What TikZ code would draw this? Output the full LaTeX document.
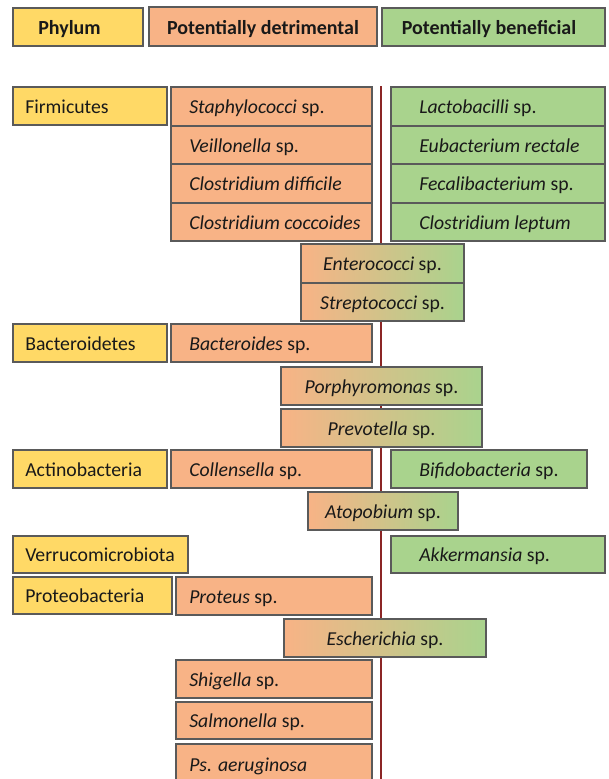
\documentclass[tikz,border=0pt]{standalone}
\usepackage{fontspec}
\setmainfont{Carlito}
\definecolor{yel}{HTML}{FFD966}
\definecolor{ora}{HTML}{F8B386}
\definecolor{grn}{HTML}{A9D38D}
\definecolor{bord}{HTML}{5A5A5A}
\definecolor{vline}{HTML}{8B2525}
\tikzset{
  boxs/.style={draw=bord, line width=0.8pt},
  txt/.style={inner sep=0pt, text height=9.5pt, text depth=3.5pt, yshift=-2.3pt, font=\fontsize{14.8}{16}\selectfont, text=black!90, anchor=west},
  ctxt/.style={inner sep=0pt, text height=9.5pt, text depth=3.5pt, yshift=-2.3pt, font=\fontsize{14.8}{16}\selectfont, text=black!90},
  hdr/.style={inner sep=0pt, text height=9.5pt, text depth=3.5pt, yshift=-2.3pt, font=\bfseries\fontsize{15}{17}\selectfont, text=black!90},
}
% name x1 y1 x2 y2 text
\newcommand{\phybox}[6]{%
  \path[boxs, fill=yel] (#2,#3) rectangle (#4,#5);
  \node[txt] (#1) at ({#2+12},{(#3+#5)/2}) {#6};}
\newcommand{\detbox}[6]{%
  \path[boxs, fill=ora] (#2,#3) rectangle (#4,#5);
  \node[txt] (#1) at (189,{(#3+#5)/2}) {#6};}
\newcommand{\benbox}[6]{%
  \path[boxs, fill=grn] (#2,#3) rectangle (#4,#5);
  \node[txt] (#1) at ({#2+28},{(#3+#5)/2}) {#6};}
\newcommand{\mixbox}[6]{%
  \path[boxs, left color=ora, right color=grn] (#2,#3) rectangle (#4,#5);
  \node[ctxt] (#1) at ({(#2+#4)/2},{(#3+#5)/2}) {#6};}
\begin{document}
\begin{tikzpicture}[x=0.75pt,y=-0.75pt]
\useasboundingbox (0,0) rectangle (608,779);
\begin{scope}
\clip (0,0) rectangle (608,779);
% headers
\path[boxs, fill=yel] (13,8) rectangle (143,46);
\node[hdr, anchor=west] (h1) at (38,27) {Phylum};
\path[boxs, fill=ora] (149,7) rectangle (377,46);
\node[hdr] (h2) at (263,27) {Potentially detrimental};
\path[boxs, fill=grn] (382,8) rectangle (605,46);
\node[hdr] (h3) at (489,27) {Potentially beneficial};
% vertical line
\coordinate (lt) at (381,86);
\coordinate (lb) at (381,781);
\draw[vline, line width=0.9pt] (lt) -- (lb);
% Firmicutes
\phybox{firm}{13}{87}{167}{125}{Firmicutes}
\detbox{staph}{171}{87}{372}{126}{\textit{Staphylococci} sp.}
\detbox{veil}{171}{126}{372}{164}{\textit{Veillonella} sp.}
\detbox{cdif}{171}{164}{372}{203}{\textit{Clostridium difficile}}
\detbox{ccoc}{171}{203}{372}{241}{\textit{Clostridium coccoides}}
\benbox{lact}{391}{87}{605}{126}{\textit{Lactobacilli} sp.}
\benbox{eub}{391}{126}{605}{164}{\textit{Eubacterium rectale}}
\benbox{fec}{391}{164}{605}{203}{\textit{Fecalibacterium} sp.}
\benbox{clep}{391}{203}{605}{241}{\textit{Clostridium leptum}}
\mixbox{ente}{301}{244}{464}{283}{\textit{Enterococci} sp.}
\mixbox{strep}{301}{283}{464}{321}{\textit{Streptococci} sp.}
% Bacteroidetes
\phybox{bact}{13}{324}{167}{362}{Bacteroidetes}
\detbox{bacd}{171}{324}{372}{362}{\textit{Bacteroides} sp.}
\mixbox{porph}{281}{367}{482}{405}{\textit{Porphyromonas} sp.}
\mixbox{prev}{281}{409}{482}{447}{\textit{Prevotella} sp.}
% Actinobacteria
\phybox{acti}{13}{450}{167}{488}{Actinobacteria}
\detbox{coll}{171}{450}{372}{488}{\textit{Collensella} sp.}
\benbox{bifi}{391}{450}{587}{488}{\textit{Bifidobacteria} sp.}
\mixbox{atop}{308}{492}{458}{530}{\textit{Atopobium} sp.}
% Verrucomicrobiota
\phybox{verr}{13}{536}{188}{573}{Verrucomicrobiota}
\benbox{akk}{391}{536}{605}{573}{\textit{Akkermansia} sp.}
% Proteobacteria
\phybox{prot}{13}{577}{172}{614}{Proteobacteria}
\detbox{prots}{176}{577}{372}{615}{\textit{Proteus} sp.}
\mixbox{esch}{284}{619}{486}{657}{\textit{Escherichia} sp.}
\detbox{shig}{176}{660}{372}{698}{\textit{Shigella} sp.}
\detbox{salm}{176}{702}{372}{739}{\textit{Salmonella} sp.}
\detbox{psae}{176}{744}{372}{784}{\textit{Ps. aeruginosa}}
\end{scope}
\end{tikzpicture}
\end{document}
